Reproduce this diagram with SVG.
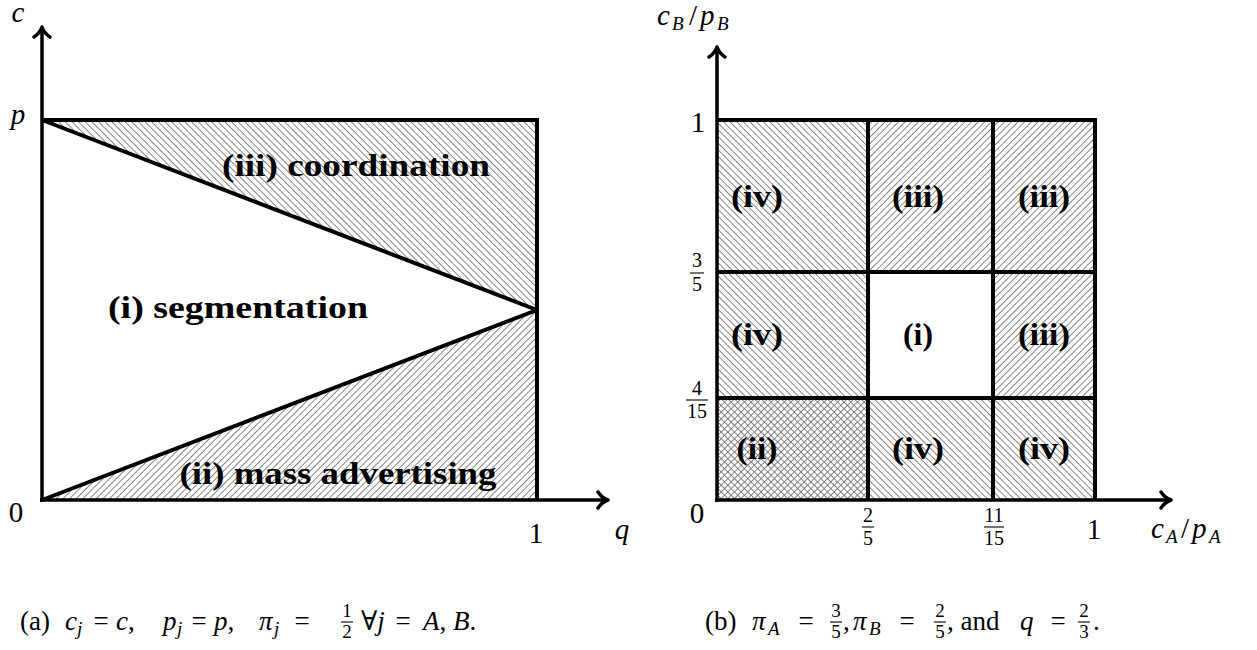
<svg xmlns="http://www.w3.org/2000/svg" width="1257" height="650" viewBox="0 0 1257 650">
<style>
.ln{stroke:#000;stroke-width:4;fill:none;stroke-linecap:butt}
.ax{stroke:#000;stroke-width:3.5;fill:none}
.ar{stroke:#000;stroke-width:3.5;fill:none;stroke-linecap:round;stroke-linejoin:round}
.t{font-family:"Liberation Serif","DejaVu Serif",serif;fill:#000}
.n{font-size:29px}
.i{font-style:italic}
.b{font-weight:bold;font-size:32px}
.f{font-size:20px}
.cap{font-size:27px}
.cf{font-size:19px}
.sb{font-size:19px;font-style:italic}
.fl{stroke:#000;stroke-width:1.1}
</style>
<defs>
<pattern id="hBack" width="4.7" height="4.7" patternUnits="userSpaceOnUse" patternTransform="rotate(-45)">
<line x1="2.35" y1="0" x2="2.35" y2="4.7" stroke="#707070" stroke-width="0.85"/>
</pattern>
<pattern id="hFwd" width="4.7" height="4.7" patternUnits="userSpaceOnUse" patternTransform="rotate(45)">
<line x1="2.35" y1="0" x2="2.35" y2="4.7" stroke="#707070" stroke-width="0.85"/>
</pattern>
</defs>

<g id="panel-a">
<g id="a-region-coordination">
<polygon points="42,120 537,120 537,310" fill="url(#hBack)"/>
<text class="t b" x="356" y="176" text-anchor="middle" textLength="268" lengthAdjust="spacingAndGlyphs">(iii) coordination</text>
</g>
<g id="a-region-segmentation">
<text class="t b" x="238" y="318" text-anchor="middle" textLength="260" lengthAdjust="spacingAndGlyphs">(i) segmentation</text>
</g>
<g id="a-region-mass">
<polygon points="42,500 537,310 537,500" fill="url(#hFwd)"/>
<text class="t b" x="338" y="484" text-anchor="middle" textLength="317" lengthAdjust="spacingAndGlyphs">(ii) mass advertising</text>
</g>
<g id="a-axes">
<line class="ax" x1="42" y1="502" x2="42" y2="28"/>
<line class="ax" x1="40" y1="500" x2="606" y2="500"/>
<path class="ar" d="M34,37 Q40,33 42,27 Q44,33 50,37"/>
<path class="ar" d="M598,492 Q602,498 608,500 Q602,502 598,508"/>
<text class="t n i" x="18" y="22" text-anchor="middle">c</text>
<text class="t n i" x="18" y="124" text-anchor="middle">p</text>
<text class="t n" x="16" y="522" text-anchor="middle">0</text>
<text class="t n" x="536" y="543" text-anchor="middle">1</text>
<text class="t n i" x="622" y="539" text-anchor="middle">q</text>
</g>
<g id="a-connectors">
<line class="ln" x1="42" y1="120" x2="539" y2="120"/>
<line class="ln" x1="537" y1="118" x2="537" y2="500"/>
<line class="ln" x1="42" y1="120" x2="537" y2="310"/>
<line class="ln" x1="42" y1="500" x2="537" y2="310"/>
</g>
<g id="a-caption">
<text class="t cap" x="20" y="630">(a)</text>
<text class="t cap i" x="65" y="630">c</text><text class="t sb" x="77" y="635">j</text>
<text class="t cap" x="101" y="630" text-anchor="middle">=</text>
<text class="t cap" x="116" y="630"><tspan class="i">c</tspan>,</text>
<text class="t cap i" x="163" y="630">p</text><text class="t sb" x="177" y="635">j</text>
<text class="t cap" x="199" y="630" text-anchor="middle">=</text>
<text class="t cap" x="214" y="630"><tspan class="i">p</tspan>,</text>
<text class="t cap i" x="259" y="630">π</text><text class="t sb" x="274" y="635">j</text>
<text class="t cap" x="302" y="630" text-anchor="middle">=</text>
<text class="t cf" x="347" y="617" text-anchor="middle">1</text>
<line class="fl" x1="341" y1="622" x2="353" y2="622"/>
<text class="t cf" x="347" y="638" text-anchor="middle">2</text>
<text class="t cap" x="361" y="630">∀<tspan class="i">j</tspan></text>
<text class="t cap" x="403" y="630" text-anchor="middle">=</text>
<text class="t cap" x="423" y="630"><tspan class="i">A</tspan>, <tspan class="i">B</tspan>.</text>
</g>
</g>

<g id="panel-b">
<g id="b-cells">
<rect x="717" y="120" width="151" height="152" fill="url(#hBack)"/>
<rect x="868" y="120" width="125" height="152" fill="url(#hFwd)"/>
<rect x="993" y="120" width="102" height="152" fill="url(#hFwd)"/>
<rect x="717" y="272" width="151" height="126" fill="url(#hBack)"/>
<rect x="993" y="272" width="102" height="126" fill="url(#hFwd)"/>
<rect x="717" y="398" width="151" height="102" fill="url(#hBack)"/>
<rect x="717" y="398" width="151" height="102" fill="url(#hFwd)"/>
<rect x="868" y="398" width="125" height="102" fill="url(#hBack)"/>
<rect x="993" y="398" width="102" height="102" fill="url(#hBack)"/>
</g>
<g id="b-labels">
<text class="t b" x="757" y="207" text-anchor="middle" textLength="52" lengthAdjust="spacingAndGlyphs">(iv)</text>
<text class="t b" x="918" y="207" text-anchor="middle" textLength="52" lengthAdjust="spacingAndGlyphs">(iii)</text>
<text class="t b" x="1044" y="207" text-anchor="middle" textLength="52" lengthAdjust="spacingAndGlyphs">(iii)</text>
<text class="t b" x="757" y="345" text-anchor="middle" textLength="52" lengthAdjust="spacingAndGlyphs">(iv)</text>
<text class="t b" x="918" y="345" text-anchor="middle" textLength="30" lengthAdjust="spacingAndGlyphs">(i)</text>
<text class="t b" x="1044" y="345" text-anchor="middle" textLength="52" lengthAdjust="spacingAndGlyphs">(iii)</text>
<text class="t b" x="757" y="459" text-anchor="middle" textLength="41" lengthAdjust="spacingAndGlyphs">(ii)</text>
<text class="t b" x="918" y="459" text-anchor="middle" textLength="52" lengthAdjust="spacingAndGlyphs">(iv)</text>
<text class="t b" x="1044" y="459" text-anchor="middle" textLength="52" lengthAdjust="spacingAndGlyphs">(iv)</text>
</g>
<g id="b-connectors">
<line class="ln" x1="717" y1="120" x2="1097" y2="120"/>
<line class="ln" x1="717" y1="272" x2="1095" y2="272"/>
<line class="ln" x1="717" y1="398" x2="1095" y2="398"/>
<line class="ln" x1="868" y1="120" x2="868" y2="500"/>
<line class="ln" x1="993" y1="120" x2="993" y2="500"/>
<line class="ln" x1="1095" y1="118" x2="1095" y2="500"/>
</g>
<g id="b-axes">
<line class="ax" x1="717" y1="502" x2="717" y2="48"/>
<line class="ax" x1="715" y1="500" x2="1169" y2="500"/>
<path class="ar" d="M709,57 Q715,53 717,47 Q719,53 725,57"/>
<path class="ar" d="M1161,492 Q1165,498 1171,500 Q1165,502 1161,508"/>
<text class="t n i" x="657" y="25">c</text>
<text class="t sb" x="672" y="30">B</text>
<text class="t n" x="689" y="25">/</text>
<text class="t n i" x="700" y="25">p</text>
<text class="t sb" x="717" y="30">B</text>
<text class="t n" x="698" y="132" text-anchor="middle">1</text>
<text class="t f" x="697" y="267" text-anchor="middle">3</text>
<line class="fl" x1="690" y1="273" x2="704" y2="273"/>
<text class="t f" x="697" y="291" text-anchor="middle">5</text>
<text class="t f" x="697" y="395" text-anchor="middle">4</text>
<line class="fl" x1="686" y1="400" x2="708" y2="400"/>
<text class="t f" x="697" y="418" text-anchor="middle">15</text>
<text class="t n" x="697" y="523" text-anchor="middle">0</text>
<text class="t f" x="868" y="522" text-anchor="middle">2</text>
<line class="fl" x1="862" y1="527" x2="874" y2="527"/>
<text class="t f" x="868" y="545" text-anchor="middle">5</text>
<text class="t f" x="994" y="522" text-anchor="middle">11</text>
<line class="fl" x1="984" y1="527" x2="1004" y2="527"/>
<text class="t f" x="994" y="545" text-anchor="middle">15</text>
<text class="t n" x="1094" y="539" text-anchor="middle">1</text>
<text class="t n i" x="1151" y="538">c</text>
<text class="t sb" x="1166" y="543">A</text>
<text class="t n" x="1181" y="538">/</text>
<text class="t n i" x="1192" y="538">p</text>
<text class="t sb" x="1209" y="543">A</text>
</g>
<g id="b-caption">
<text class="t cap" x="705" y="630">(b)</text>
<text class="t cap i" x="752" y="630">π</text><text class="t sb" x="768" y="635">A</text>
<text class="t cap" x="806" y="630" text-anchor="middle">=</text>
<text class="t cf" x="836" y="617" text-anchor="middle">3</text>
<line class="fl" x1="830" y1="622" x2="842" y2="622"/>
<text class="t cf" x="836" y="638" text-anchor="middle">5</text>
<text class="t cap" x="843" y="630">,</text>
<text class="t cap i" x="853" y="630">π</text><text class="t sb" x="869" y="635">B</text>
<text class="t cap" x="907" y="630" text-anchor="middle">=</text>
<text class="t cf" x="940" y="617" text-anchor="middle">2</text>
<line class="fl" x1="934" y1="622" x2="946" y2="622"/>
<text class="t cf" x="940" y="638" text-anchor="middle">5</text>
<text class="t cap" x="947" y="630">, and</text>
<text class="t cap i" x="1020" y="630">q</text>
<text class="t cap" x="1058" y="630" text-anchor="middle">=</text>
<text class="t cf" x="1084" y="617" text-anchor="middle">2</text>
<line class="fl" x1="1078" y1="622" x2="1090" y2="622"/>
<text class="t cf" x="1084" y="638" text-anchor="middle">3</text>
<text class="t cap" x="1093" y="630">.</text>
</g>
</g>
</svg>
